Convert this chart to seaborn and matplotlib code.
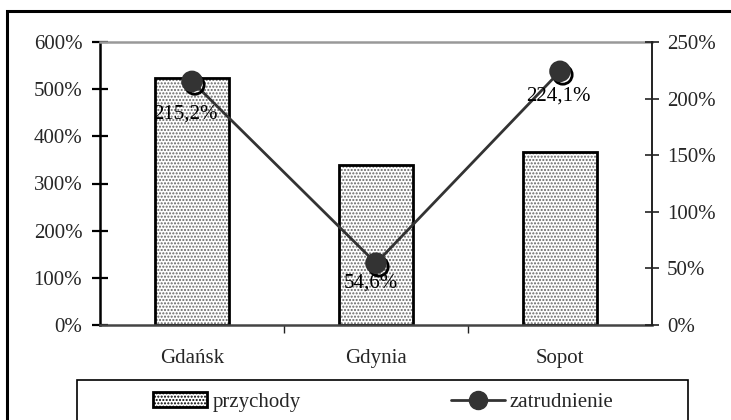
import matplotlib
matplotlib.use("Agg")
import matplotlib.pyplot as plt
import matplotlib.patheffects as pe
from matplotlib.patches import Rectangle
from matplotlib.lines import Line2D
from matplotlib.ticker import MultipleLocator, PercentFormatter, FixedLocator
import seaborn as sns

cities = ["Gdańsk", "Gdynia", "Sopot"]
revenue = [524, 340, 367]          # przychody, left axis (%)
employment = [215.2, 54.6, 224.1]  # zatrudnienie, right axis (%)

# label offsets (points), as placed by hand in the original chart
label_offsets = [(-5, -23.5), (-3.5, -14), (-1.5, -18)]

sns.set_theme(style="white")
plt.rcParams["font.family"] = ["Liberation Serif", "DejaVu Serif"]
plt.rcParams["hatch.linewidth"] = 1.0

FS = 15
LINE_COLOR = "#333333"

fig = plt.figure(figsize=(7.31, 4.2), dpi=100)
ax = fig.add_axes([100 / 731, 95 / 420, 552 / 731, 283 / 420])

sns.barplot(x=cities, y=revenue, ax=ax, color="white", edgecolor="black",
            linewidth=2, width=0.4, saturation=1)
for p in ax.patches:
    ax.add_patch(Rectangle(p.get_xy(), p.get_width(), p.get_height(), fill=False,
                           hatch=".....", edgecolor="#666666", linewidth=0, zorder=p.get_zorder() + 0.1))
    p.set_zorder(p.get_zorder() + 0.2)
    p.set_facecolor("none")

ax.set_xlim(-0.5, len(cities) - 0.5)
ax.set_ylim(0, 600)
ax.yaxis.set_major_locator(MultipleLocator(100))
ax.yaxis.set_major_formatter(PercentFormatter(decimals=0))
ax.set_xlabel("")
ax.set_ylabel("")

ax2 = ax.twinx()
sns.pointplot(x=cities, y=employment, ax=ax2, color=LINE_COLOR, marker="",
              linewidth=2, errorbar=None)
sns.pointplot(x=cities, y=employment, ax=ax2, color=LINE_COLOR, marker="o",
              linestyle="none", markersize=13.5, errorbar=None)
ax2.lines[-1].set_path_effects([
    pe.SimpleLineShadow(offset=(2, -2.5), shadow_color="black", alpha=1),
    pe.Normal(),
])
ax2.set_xlim(-0.5, len(cities) - 0.5)
ax2.set_ylim(0, 250)
ax2.yaxis.set_major_locator(MultipleLocator(50))
ax2.yaxis.set_major_formatter(PercentFormatter(decimals=0))
ax2.set_ylabel("")

for i, (v, off) in enumerate(zip(employment, label_offsets)):
    ax2.annotate(f"{v:.1f}%".replace(".", ","), (i, v), xytext=off,
                 textcoords="offset points", ha="center", va="center",
                 fontsize=FS, color="black")

# spines
for a in (ax, ax2):
    for s in a.spines.values():
        s.set_visible(False)
ax.spines["left"].set_visible(True)
ax.spines["left"].set_color("black")
ax.spines["left"].set_linewidth(1.8)
ax.spines["bottom"].set_visible(True)
ax.spines["bottom"].set_color("#444444")
ax.spines["bottom"].set_linewidth(1.8)
ax.spines["top"].set_visible(True)
ax.spines["top"].set_color("#999999")
ax.spines["top"].set_linewidth(1.8)
ax2.spines["right"].set_visible(True)
ax2.spines["right"].set_color("#222222")
ax2.spines["right"].set_linewidth(1.4)

ax.tick_params(axis="y", which="major", direction="inout", length=11.5, width=1.6,
               color="black", labelsize=FS, pad=7, left=True)
ax2.tick_params(axis="y", which="major", direction="inout", length=9.5, width=1.2,
                color="#222222", labelsize=FS, pad=6, right=True)
ax.xaxis.set_minor_locator(FixedLocator([0.5, 1.5]))
ax.tick_params(axis="x", which="major", length=0, labelsize=FS, pad=17)
ax.tick_params(axis="x", which="minor", direction="out", length=6, width=1.0,
               color="#222222", bottom=True)
ax2.tick_params(axis="x", which="both", length=0, labelbottom=False)

# legend box
fig.patches.append(Rectangle((77 / 731, -0.1), 611 / 731, 0.1 + 40 / 420, fill=False,
                             edgecolor="black", linewidth=1.2, transform=fig.transFigure,
                             figure=fig))
bar_handle = Rectangle((0, 0), 1, 1, facecolor="white", edgecolor="black",
                       linewidth=2, hatch=".....")
line_handle = Line2D([], [], color=LINE_COLOR, linewidth=2, marker="o", markersize=13)
fig.legend([bar_handle, line_handle], ["przychody", "zatrudnienie"], loc="center left",
           bbox_to_anchor=(153 / 731, 1 - 402 / 420), frameon=False, ncol=2,
           fontsize=FS, handlelength=2.6, handleheight=0.75, handletextpad=0.25,
           columnspacing=7.2, borderpad=0, borderaxespad=0)

# outer chart frame
fig.patches.append(Rectangle((7 / 731, -0.1), 1.2, 0.1 + 1 - 11 / 420, fill=False,
                             edgecolor="black", linewidth=2.2, transform=fig.transFigure,
                             figure=fig))

fig.savefig("out.png", dpi=100)
